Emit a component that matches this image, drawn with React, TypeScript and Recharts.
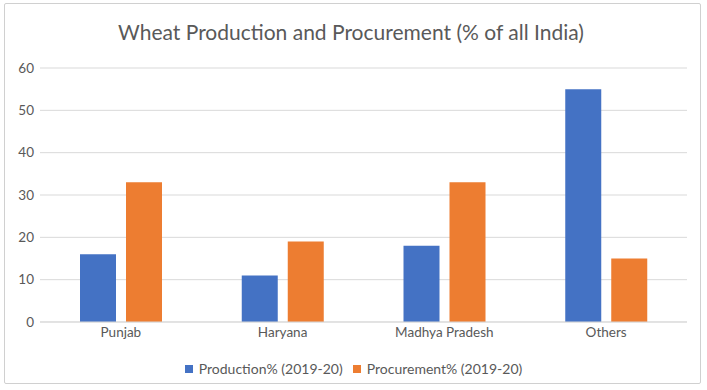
import React from "react";
import { BarChart, Bar, XAxis, YAxis, CartesianGrid } from "recharts";

const categories = ["Punjab", "Haryana", "Madhya Pradesh", "Others"];
const production = [16, 11, 18, 55];
const procurement = [33, 19, 33, 15];
const yTicks = [0, 10, 20, 30, 40, 50, 60];
const seriesNames = ["Production% (2019-20)", "Procurement% (2019-20)"];
const colors = ["#4472C4", "#ED7D31"];
const title = "Wheat Production and Procurement (% of all India)";

const data = categories.map((c, i) => ({
  name: c,
  production: production[i],
  procurement: procurement[i],
}));

const FONT = "Lato, 'Open Sans', sans-serif";

const LegendContent = () => (
  <div
    style={{
      display: "flex",
      justifyContent: "center",
      alignItems: "center",
      fontFamily: FONT,
      fontSize: 14,
      color: "#595959",
    }}
  >
    {seriesNames.map((n, i) => (
      <div key={n} style={{ display: "flex", alignItems: "center", marginRight: i === 0 ? 10 : 0 }}>
        <span style={{ display: "inline-block", width: 8, height: 8, background: colors[i], marginRight: 6 }} />
        <span>{n}</span>
      </div>
    ))}
  </div>
);

export default function App() {
  return (
    <div style={{ position: "absolute", left: 0, top: 0, width: 707, height: 390, background: "#fff" }}>
      <div
        style={{
          position: "absolute",
          left: 4,
          top: 3,
          width: 695,
          height: 379,
          border: "1px solid #d0d0d0",
          borderRadius: 2,
        }}
      />
      <svg width={707} height={60} style={{ position: "absolute", left: 0, top: 0 }}>
        <text x={351} y={40} textAnchor="middle" fontFamily={FONT} fontSize={21} fill="#595959">
          {title}
        </text>
      </svg>
      <div style={{ position: "absolute", left: 0, top: 0 }}>
        <BarChart width={707} height={390} data={data} margin={{ top: 68, right: 20, bottom: 48, left: 0 }} barGap={10} barSize={36}>
          <CartesianGrid vertical={false} stroke="#d9d9d9" />
          <XAxis
            dataKey="name"
            axisLine={{ stroke: "#d9d9d9" }}
            tickLine={false}
            tick={{ fill: "#595959", fontSize: 13.5, fontFamily: FONT }}
            tickSize={0}
            tickMargin={5}
            height={20}
          />
          <YAxis
            domain={[0, 60]}
            ticks={yTicks}
            axisLine={false}
            tickLine={false}
            tickSize={0}
            tickMargin={6}
            width={40}
            tick={{ fill: "#595959", fontSize: 13.5, fontFamily: FONT }}
          />
          <Bar dataKey="production" name={seriesNames[0]} fill={colors[0]} isAnimationActive={false} />
          <Bar dataKey="procurement" name={seriesNames[1]} fill={colors[1]} isAnimationActive={false} />
        </BarChart>
      </div>
      <div style={{ position: "absolute", left: 0, top: 360, width: 707, height: 20 }}>
        <LegendContent />
      </div>
    </div>
  );
}
